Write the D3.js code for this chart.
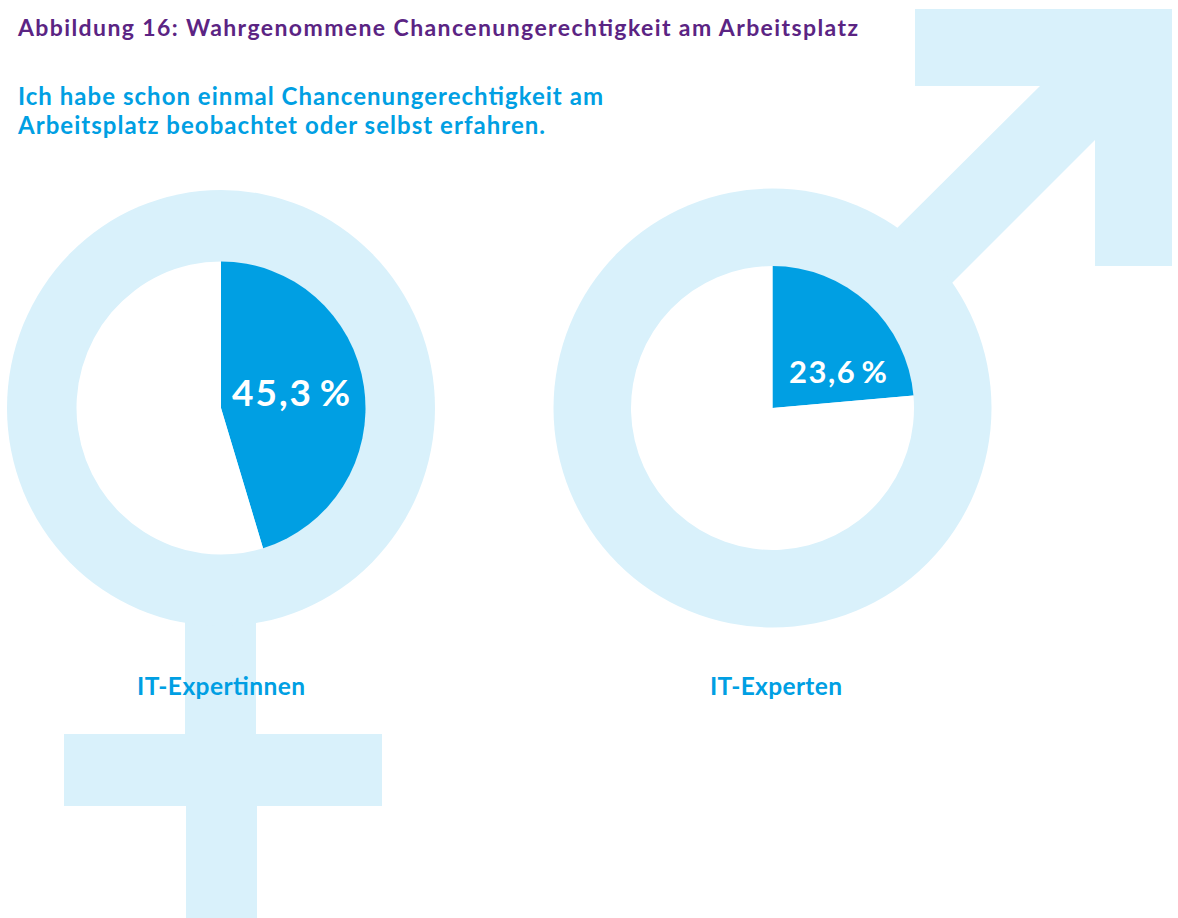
<!DOCTYPE html>
<html>
<head>
<meta charset="utf-8">
<script src="https://cdn.jsdelivr.net/npm/d3@7"></script>
<style>
html, body { margin: 0; padding: 0; background: white; }
svg { display: block; }
text { font-family: Lato, sans-serif; font-weight: 700; }
</style>
</head>
<body>
<script>
var width = 1178
var height = 918

var light = "#d9f1fb"
var blue = "#009fe3"
var purple = "#5b2483"

var title = "Abbildung 16: Wahrgenommene Chancenungerechtigkeit am Arbeitsplatz"
var question = ["Ich habe schon einmal Chancenungerechtigkeit am", "Arbeitsplatz beobachtet oder selbst erfahren."]

var groups = ["IT-Expertinnen", "IT-Experten"]
var yes_share = [45.3, 23.6]

// ring geometry per group, the rings in the source are slightly oval
var ring_x = [221, 772.5]
var ring_y = 408
var ring_outer = [[214, 218], [219, 219.5]]
var ring_inner = [[144.5, 146.5], [141.5, 142]]
var label_x = [221, 776]
var label_w = [168, 132]
var value_pos = [[291, 406, 37, 118], [838, 383, 31, 98]]

var svg = d3.select("body").append("svg")
.attr("width", width)
.attr("height", height)

// the gender symbols behind the pies
var venus = [[185, 600, 71, 134], [64, 734, 318, 72], [186, 806, 71, 112]]
svg.selectAll(".venus")
.data(venus)
.enter().append("rect")
.attr("x", function(d) { return d[0] })
.attr("y", function(d) { return d[1] })
.attr("width", function(d) { return d[2] })
.attr("height", function(d) { return d[3] })
.attr("fill", light)

svg.append("path")
.attr("d", "M915,9H1172V266H1095V140L930,305L875,250L1040,86H915Z")
.attr("fill", light)

var arc = d3.arc().innerRadius(0)
var pie = d3.pie().sort(null).value(function(d) { return d })
var de = d3.formatLocale({ decimal: ",", thousands: ".", grouping: [3], currency: ["", " €"] })
var fmt = de.format(".1f")

groups.forEach(function(name, i) {
    var g = svg.append("g")
    .attr("transform", "translate(" + ring_x[i] + "," + ring_y + ")")

    g.append("ellipse")
    .attr("rx", ring_outer[i][0])
    .attr("ry", ring_outer[i][1])
    .attr("fill", light)

    var inner = ring_inner[i]
    g.append("g")
    .attr("transform", "scale(1," + (inner[1] / inner[0]) + ")")
    .selectAll("path")
    .data(pie([yes_share[i], 100 - yes_share[i]]))
    .enter().append("path")
    .attr("d", function(d) { return arc.outerRadius(inner[0])(d) })
    .attr("fill", function(d, j) { return j == 0 ? blue : "white" })

    svg.append("text")
    .attr("x", value_pos[i][0])
    .attr("y", value_pos[i][1])
    .attr("text-anchor", "middle")
    .attr("fill", "white")
    .attr("font-size", value_pos[i][2])
    .attr("textLength", value_pos[i][3])
    .text(fmt(yes_share[i]) + "\u2009%")

    svg.append("text")
    .attr("x", label_x[i])
    .attr("y", 695)
    .attr("text-anchor", "middle")
    .attr("fill", blue)
    .attr("font-size", 24.5)
    .attr("textLength", label_w[i])
    .text(name)
})

svg.append("text")
.attr("x", 18)
.attr("y", 36)
.attr("fill", purple)
.attr("font-size", 23)
.attr("textLength", 840)
.text(title)

svg.selectAll(".question")
.data(question)
.enter().append("text")
.attr("x", 18)
.attr("y", function(d, i) { return 105 + i * 29 })
.attr("fill", blue)
.attr("font-size", 24)
.attr("textLength", function(d, i) { return i == 0 ? 585 : 527 })
.text(function(d) { return d })
</script>
</body>
</html>
